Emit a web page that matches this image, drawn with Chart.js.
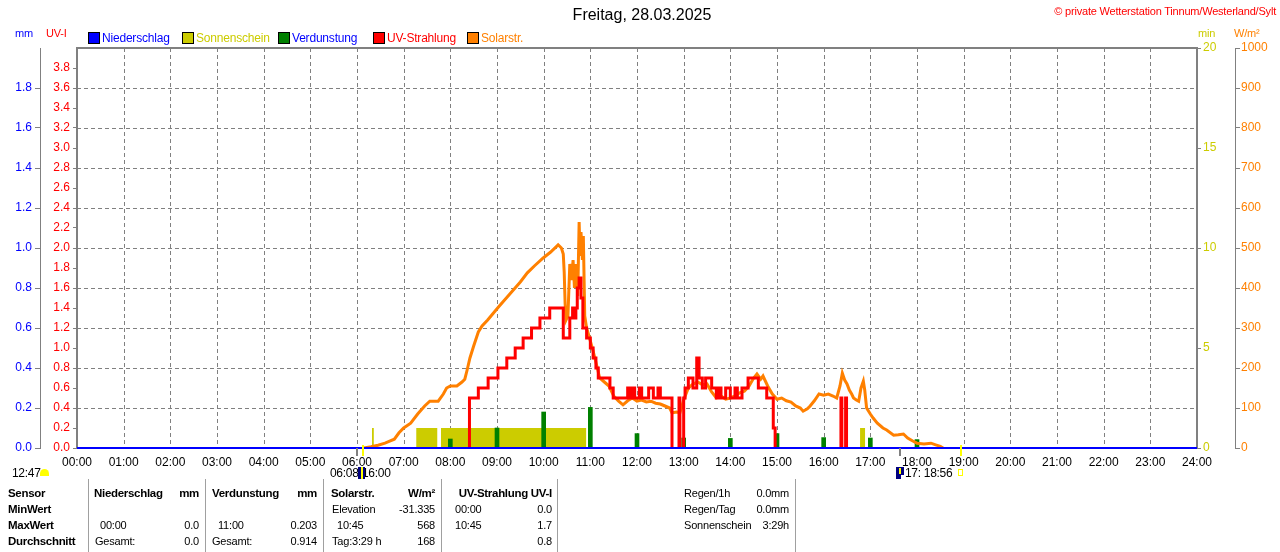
<!DOCTYPE html>
<html><head><meta charset="utf-8">
<script src="https://cdn.jsdelivr.net/npm/chart.js@4.4.1/dist/chart.umd.min.js"></script>
<style>
body{margin:0;background:#fff;width:1280px;height:552px;overflow:hidden;position:relative;font-family:"Liberation Sans",Arial,sans-serif;}
.t{position:absolute;white-space:nowrap;font-size:11px;line-height:14px;color:#000;letter-spacing:-0.2px;}
#wrap{position:absolute;left:0;top:0;width:1280px;height:470px;}
.sq{position:absolute;width:10px;height:10px;border:1px solid #000;}
.vl{position:absolute;width:1px;background:#a0a0a0;top:479px;height:73px;}
</style></head><body>
<div id="wrap"><canvas id="c"></canvas></div>
<script>
// ---------- data ----------
const hourTicks = [0,1,2,3,4,5,6,7,8,9,10,11,12,13,14,15,16,17,18,19,20,21,22,23,24];
const xTickLabels = ["00:00","01:00","02:00","03:00","04:00","05:00","06:00","07:00","08:00","09:00","10:00","11:00","12:00","13:00","14:00","15:00","16:00","17:00","18:00","19:00","20:00","21:00","22:00","23:00","24:00"];

// Solarstrahlung (W/m²)
const solarTime = [6.15,6.3,6.45,6.6,6.7,6.8,6.9,7.0,7.15,7.3,7.45,7.56,7.74,7.85,7.92,8.0,8.14,8.25,8.31,8.36,8.42,8.5,8.6,8.68,8.8,8.92,9.05,9.2,9.35,9.5,9.65,9.8,9.99,10.15,10.31,10.38,10.42,10.44,10.46,10.48,10.52,10.56,10.6,10.63,10.66,10.7,10.73,10.76,10.78,10.8,10.83,10.85,10.88,10.92,10.97,11.06,11.15,11.2,11.3,11.4,11.5,11.6,11.7,11.8,11.9,12.0,12.1,12.2,12.3,12.4,12.5,12.6,12.7,12.75,12.85,12.92,13.0,13.1,13.2,13.3,13.4,13.5,13.6,13.7,13.8,13.9,14.0,14.1,14.2,14.3,14.4,14.5,14.57,14.65,14.7,14.8,14.9,15.0,15.1,15.2,15.3,15.4,15.5,15.56,15.65,15.71,15.8,15.9,16.0,16.1,16.2,16.28,16.35,16.4,16.45,16.5,16.55,16.6,16.64,16.7,16.75,16.8,16.85,16.88,16.92,17.0,17.06,17.15,17.27,17.35,17.5,17.6,17.71,17.8,17.9,18.0,18.15,18.3,18.4,18.5,18.56];
const solarValue = [0,3,7,12,17,22,38,50,62,85,105,117,117,135,150,155,155,165,172,195,225,255,290,305,320,337,355,375,395,415,438,455,475,490,508,500,485,440,360,320,330,460,420,470,400,460,380,565,480,540,470,530,330,300,280,242,200,175,165,155,130,118,108,118,125,117,120,115,117,112,110,105,100,88,90,88,120,150,160,165,158,160,140,125,130,122,125,130,138,142,155,175,185,172,180,155,135,122,125,118,115,105,100,92,98,105,118,135,132,135,130,125,155,187,170,160,145,135,125,120,117,150,167,145,100,85,75,62,50,45,32,33,35,25,18,12,10,12,8,4,0];

// UV-Strahlung (UV-I), value holds from its time until the next; null = no reading drawn
const uvTime = [8.38,8.41,8.6,8.81,9.02,9.21,9.39,9.56,9.74,9.92,10.13,10.42,10.56,10.62,10.66,10.69,10.72,10.76,10.8,10.84,10.92,11.0,11.06,11.12,11.17,11.42,11.49,11.8,11.85,11.9,11.95,12.05,12.1,12.25,12.35,12.45,12.5,12.75,12.76,12.89,12.9,12.92,12.93,12.97,13.0,13.03,13.1,13.2,13.28,13.33,13.4,13.47,13.6,13.7,13.75,13.8,13.9,14.0,14.1,14.15,14.25,14.38,14.6,14.78,14.92,14.96,14.97,16.36,16.37,16.39,16.4,16.46,16.47,16.49,16.5];
const uvValue = [0,0.5,0.6,0.7,0.8,0.9,1.0,1.1,1.2,1.3,1.4,1.1,1.3,1.4,1.3,1.4,1.6,1.7,1.5,1.2,1.1,1.0,0.9,0.8,0.7,0.6,0.5,0.6,0.5,0.6,0.5,0.6,0.5,0.6,0.5,0.6,0.5,0.0,null,0.0,0.5,0.0,null,0.0,0.5,0.6,0.7,0.6,0.9,0.7,0.6,0.7,0.6,0.5,0.6,0.5,0.6,0.5,0.6,0.5,0.6,0.7,0.6,0.5,0.2,0.0,null,0.0,0.5,0.0,null,0.0,0.5,0.0,null];

// Sonnenschein (min)
const sunStart = [6.32,7.27,7.80,16.78];
const sunEnd   = [6.36,7.72,10.91,16.89];
const sunMinutes = [1,1,1,1];

// Verdunstung (mm)
const evapHour = [8,9,10,11,12,13,14,15,16,17,18];
const evapMm   = [0.045,0.10,0.18,0.203,0.072,0.05,0.048,0.072,0.052,0.05,0.042];

// Niederschlag (mm)
const rainTime = [0,24];
const rainMm   = [0,0];

// Sonnenauf-/untergang, Dämmerung
const sunrise = 6 + 8/60;
const sunset  = 18 + 56/60;
const greyMarks = [6.0, 17.64];

const mmTicks  = [0,0.2,0.4,0.6,0.8,1.0,1.2,1.4,1.6,1.8];
const uvTicks  = [0,0.2,0.4,0.6,0.8,1.0,1.2,1.4,1.6,1.8,2.0,2.2,2.4,2.6,2.8,3.0,3.2,3.4,3.6,3.8];
const minTicks = [0,5,10,15,20];
const wTicks   = [0,100,200,300,400,500,600,700,800,900,1000];

// ---------- build ----------
const solarData = solarTime.map((t,i)=>({x:t,y:solarValue[i]}));
const uvData = uvTime.map((t,i)=>({x:t,y:uvValue[i]}));
const sunData = [];
sunStart.forEach((s,i)=>{ sunData.push({x:s,y:0},{x:s,y:sunMinutes[i]},{x:sunEnd[i],y:sunMinutes[i]},{x:sunEnd[i],y:0}); });
const evapData = evapHour.map((h,i)=>({x:h,y:evapMm[i]}));
const rainData = rainTime.map((t,i)=>({x:t,y:rainMm[i]}));

const FF = '"Liberation Sans", Arial, sans-serif';
const tickFont = {family:FF, size:12};
const setTicks = arr => s => { s.ticks = arr.map(v=>({value:v})); };

const gridPlugin = {
  id:'gridframe',
  beforeDatasetsDraw(chart){
    const {ctx, chartArea:a, scales} = chart;
    ctx.save();
    ctx.strokeStyle = '#808080'; ctx.lineWidth = 1; ctx.setLineDash([4,3]);
    hourTicks.slice(1,-1).forEach(h=>{
      const x = Math.round(scales.x.getPixelForValue(h)) + 0.5;
      ctx.beginPath(); ctx.moveTo(x,a.top); ctx.lineTo(x,a.bottom); ctx.stroke();
    });
    wTicks.slice(1,-1).forEach(v=>{
      const y = Math.round(scales.yW.getPixelForValue(v)) + 0.5;
      ctx.beginPath(); ctx.moveTo(a.left,y); ctx.lineTo(a.right,y); ctx.stroke();
    });
    ctx.setLineDash([]);
    ctx.lineWidth = 2;
    ctx.strokeRect(a.left, a.top, a.right-a.left, a.bottom-a.top);
    ctx.restore();
  },
  afterDraw(chart){
    const {ctx, chartArea:a, scales} = chart;
    ctx.save();
    ctx.fillStyle = '#808080';
    greyMarks.forEach(t=>{ const x = Math.round(scales.x.getPixelForValue(t)); ctx.fillRect(x-1, a.bottom, 2, 8); });
    ctx.fillStyle = '#FFFF00';
    [sunrise, sunset].forEach(t=>{ const x = Math.round(scales.x.getPixelForValue(t)); ctx.fillRect(x-1, a.bottom-3, 2, 11); });
    ctx.restore();
  }
};

new Chart(document.getElementById('c'), {
  type:'line',
  data:{datasets:[
    {label:'Niederschlag', data:rainData, yAxisID:'yMm', borderColor:'#0000FF', borderWidth:2, pointRadius:0, order:0, clip:false},
    {label:'UV-Strahlung', data:uvData, yAxisID:'yUv', borderColor:'#FF0000', borderWidth:3, stepped:true, spanGaps:false, pointRadius:0, order:1},
    {label:'Solarstr.', data:solarData, yAxisID:'yW', borderColor:'#FF8000', borderWidth:3, pointRadius:0, tension:0, order:2},
    {type:'bar', label:'Verdunstung', data:evapData, yAxisID:'yMm', backgroundColor:'#008000', barThickness:4, order:3},
    {label:'Sonnenschein', data:sunData, yAxisID:'yMin', borderWidth:0, borderColor:'rgba(0,0,0,0)', backgroundColor:'#CCCC00', fill:'origin', pointRadius:0, order:4}
  ]},
  options:{
    responsive:true, maintainAspectRatio:false, animation:false, devicePixelRatio:1, events:[],
    layout:{padding:{top:48,left:0,right:0,bottom:0}},
    plugins:{legend:{display:false}, tooltip:{enabled:false}, title:{display:false}},
    scales:{
      x:{type:'linear', min:0, max:24, offset:false,
         afterBuildTicks:setTicks(hourTicks),
         ticks:{autoSkip:false, maxRotation:0, color:'#000', font:tickFont, padding:7, callback:(v)=>xTickLabels[hourTicks.indexOf(v)]},
         grid:{display:false, drawTicks:false}, border:{display:false},
         afterFit(s){ s.height = 22; }},
      yMm:{type:'linear', position:'left', weight:1, min:0, max:2,
         afterBuildTicks:setTicks(mmTicks),
         ticks:{color:'#0000FF', font:tickFont, padding:3, callback:v=>v.toFixed(1)},
         grid:{drawOnChartArea:false, color:'#808080', tickLength:5, tickColor:'#808080'},
         border:{display:true, color:'#808080', width:1},
         afterFit(s){ s.width = 40; }},
      yUv:{type:'linear', position:'left', weight:0, min:0, max:4,
         afterBuildTicks:setTicks(uvTicks),
         ticks:{color:'#FF0000', font:tickFont, padding:3, callback:v=>v.toFixed(1)},
         grid:{drawOnChartArea:false, color:'#808080', tickLength:4, tickColor:'#808080'},
         border:{display:false},
         afterFit(s){ s.width = 37; }},
      yMin:{type:'linear', position:'right', weight:0, min:0, max:20,
         afterBuildTicks:setTicks(minTicks),
         ticks:{color:'#CCCC00', font:tickFont, padding:2, callback:v=>String(v)},
         grid:{drawOnChartArea:false, color:'#808080', tickLength:4, tickColor:'#808080'},
         border:{display:false},
         afterFit(s){ s.width = 38; }},
      yW:{type:'linear', position:'right', weight:1, min:0, max:1000,
         afterBuildTicks:setTicks(wTicks),
         ticks:{color:'#FF8000', font:tickFont, padding:1, callback:v=>String(v)},
         grid:{drawOnChartArea:false, color:'#808080', tickLength:5, tickColor:'#808080'},
         border:{display:true, color:'#808080', width:1},
         afterFit(s){ s.width = 45; }}
    }
  },
  plugins:[gridPlugin]
});

// ---------- texts ----------
function T(txt, x, y, o){
  o = o || {};
  const d = document.createElement('div');
  d.className = 't';
  d.textContent = txt;
  const lh = o.size ? Math.round(o.size*1.25) : 14;
  d.style.lineHeight = lh+'px';
  d.style.top = (y - lh/2) + 'px';
  if (o.align === 'right') { d.style.left = (x-300)+'px'; d.style.width='300px'; d.style.textAlign='right'; }
  else if (o.align === 'center') { d.style.left = (x-300)+'px'; d.style.width='600px'; d.style.textAlign='center'; }
  else d.style.left = x+'px';
  if (o.color) d.style.color = o.color;
  if (o.bold) { d.style.fontWeight = 'bold'; d.style.letterSpacing = '-0.3px'; }
  if (o.size) d.style.fontSize = o.size+'px';
  if (o.ls !== undefined) d.style.letterSpacing = o.ls+'px';
  document.body.appendChild(d);
  return d;
}
function box(x,y,w,h,css){ const d=document.createElement('div'); d.style.position='absolute'; d.style.left=x+'px'; d.style.top=y+'px'; d.style.width=w+'px'; d.style.height=h+'px'; d.style.cssText += css; document.body.appendChild(d); return d; }

T('Freitag, 28.03.2025', 642, 15, {align:'center', size:16, ls:0});
T('© private Wetterstation Tinnum/Westerland/Sylt', 1276, 11, {align:'right', color:'#FF0000', size:11, ls:-0.2});

T('mm', 15, 33, {color:'#0000FF'});
T('UV-I', 46, 33, {color:'#FF0000'});
T('min', 1198, 33, {color:'#CCCC00'});
T('W/m²', 1234, 33, {color:'#FF8000'});

const legendItems = [
  ['Niederschlag', 88, '#0000FF', '#0000FF'],
  ['Sonnenschein', 182, '#CCCC00', '#CCCC00'],
  ['Verdunstung', 278, '#008000', '#0000FF'],
  ['UV-Strahlung', 373, '#FF0000', '#FF0000'],
  ['Solarstr.', 467, '#FF8000', '#FF8000']
];
legendItems.forEach(([name,x,sq,tc])=>{
  const s = document.createElement('div'); s.className='sq'; s.style.left=x+'px'; s.style.top='32px'; s.style.background=sq; document.body.appendChild(s);
  T(name, x+14, 38, {color:tc, size:12, ls:-0.2});
});

// under the axis
T('12:47', 12, 473, {size:12, ls:-0.3});
box(40,469,9,7,'background:#FFFF00;border-radius:5px 5px 0 0;');
T('06:08', 330, 473, {size:12, ls:-0.3});
T('16:00', 362, 473, {size:12, ls:-0.3});
box(358,467,7,12,'background:#000080;');
box(361,467,2,12,'background:#FFFF00;');
box(896,467,8,12,'background:#000080;');
box(899,468,2,6,'background:#FFFF00;');
box(901,475,3,4,'background:#FFFFFF;');
T('17: 18:56', 905, 473, {size:12, ls:-0.3});
box(958,469,3,5,'border:1px solid #FFFF00;');

// table
[88,205,323,441,557,795].forEach(x=>{ const d=document.createElement('div'); d.className='vl'; d.style.left=x+'px'; document.body.appendChild(d); });
const r1=493, r2=509, r3=525, r4=541;
T('Sensor', 8, r1, {bold:true, size:11.5});
T('MinWert', 8, r2, {bold:true, size:11.5});
T('MaxWert', 8, r3, {bold:true, size:11.5});
T('Durchschnitt', 8, r4, {bold:true, size:11.5});
T('Niederschlag', 94, r1, {bold:true, size:11.5});
T('mm', 199, r1, {bold:true, size:11.5, align:'right'});
T('Verdunstung', 212, r1, {bold:true, size:11.5});
T('mm', 317, r1, {bold:true, size:11.5, align:'right'});
T('Solarstr.', 331, r1, {bold:true, size:11.5});
T('W/m²', 435, r1, {bold:true, size:11.5, align:'right'});
T('UV-Strahlung UV-I', 552, r1, {bold:true, size:11.5, align:'right'});

T('Elevation', 332, r2);
T('-31.335', 435, r2, {align:'right'});
T('00:00', 455, r2);
T('0.0', 552, r2, {align:'right'});

T('00:00', 100, r3);
T('0.0', 199, r3, {align:'right'});
T('11:00', 218, r3);
T('0.203', 317, r3, {align:'right'});
T('10:45', 337, r3);
T('568', 435, r3, {align:'right'});
T('10:45', 455, r3);
T('1.7', 552, r3, {align:'right'});

T('Gesamt:', 95, r4);
T('0.0', 199, r4, {align:'right'});
T('Gesamt:', 212, r4);
T('0.914', 317, r4, {align:'right'});
T('Tag:3:29 h', 332, r4);
T('168', 435, r4, {align:'right'});
T('0.8', 552, r4, {align:'right'});

T('Regen/1h', 684, r1);
T('0.0mm', 789, r1, {align:'right'});
T('Regen/Tag', 684, r2);
T('0.0mm', 789, r2, {align:'right'});
T('Sonnenschein', 684, r3);
T('3:29h', 789, r3, {align:'right'});
</script>
</body></html>
